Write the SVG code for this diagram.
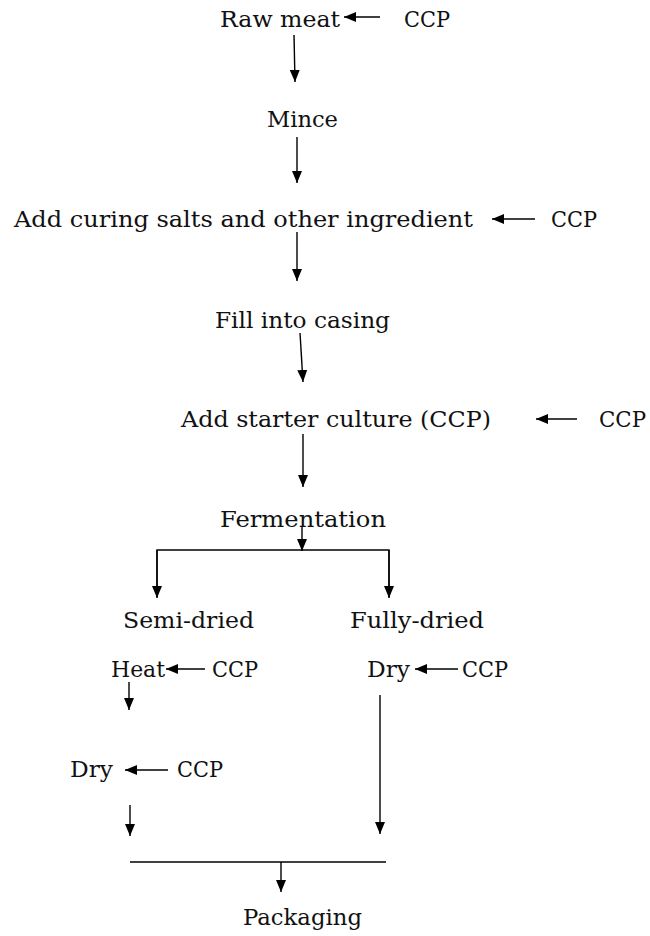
<svg xmlns="http://www.w3.org/2000/svg" width="650" height="936" viewBox="0 0 650 936">
<style>
text{font-family:"DejaVu Serif","Liberation Serif",serif;font-size:23px;fill:#111}
.c line,.c polyline{stroke:#000;stroke-width:1.4;fill:none}
.a{marker-end:url(#ah)}
</style>
<defs>
<marker id="ah" markerUnits="userSpaceOnUse" markerWidth="14" markerHeight="14" viewBox="0 0 14 14" refX="12" refY="7" orient="auto">
<path d="M0,2 L12,7 L0,12 Z" fill="#000"/>
</marker>
</defs>
<rect width="650" height="936" fill="#fff"/>
<g id="raw"><text x="220" y="27" textLength="120" lengthAdjust="spacingAndGlyphs">Raw meat</text></g>
<g id="ccp1"><text x="404" y="27" textLength="46" lengthAdjust="spacingAndGlyphs">CCP</text></g>
<g id="mince"><text x="267" y="127" textLength="71" lengthAdjust="spacingAndGlyphs">Mince</text></g>
<g id="curing"><text x="14" y="227" textLength="459" lengthAdjust="spacingAndGlyphs">Add curing salts and other ingredient</text></g>
<g id="ccp2"><text x="551" y="227" textLength="46" lengthAdjust="spacingAndGlyphs">CCP</text></g>
<g id="fill"><text x="215" y="328" textLength="175" lengthAdjust="spacingAndGlyphs">Fill into casing</text></g>
<g id="starter"><text x="181" y="427" textLength="310" lengthAdjust="spacingAndGlyphs">Add starter culture (CCP)</text></g>
<g id="ccp3"><text x="599" y="427" textLength="47" lengthAdjust="spacingAndGlyphs">CCP</text></g>
<g id="ferm"><text x="220" y="527" textLength="166" lengthAdjust="spacingAndGlyphs">Fermentation</text></g>
<g id="semi"><text x="123" y="628" textLength="131" lengthAdjust="spacingAndGlyphs">Semi-dried</text></g>
<g id="fully"><text x="350" y="628" textLength="134" lengthAdjust="spacingAndGlyphs">Fully-dried</text></g>
<g id="heat"><text x="111" y="677" textLength="54" lengthAdjust="spacingAndGlyphs">Heat</text></g>
<g id="ccp4"><text x="212" y="677" textLength="46" lengthAdjust="spacingAndGlyphs">CCP</text></g>
<g id="dry2"><text x="367" y="677" textLength="43" lengthAdjust="spacingAndGlyphs">Dry</text></g>
<g id="ccp5"><text x="462" y="677" textLength="46" lengthAdjust="spacingAndGlyphs">CCP</text></g>
<g id="dry1"><text x="70" y="777" textLength="43" lengthAdjust="spacingAndGlyphs">Dry</text></g>
<g id="ccp6"><text x="177" y="777" textLength="46" lengthAdjust="spacingAndGlyphs">CCP</text></g>
<g id="pack"><text x="243" y="925" textLength="119" lengthAdjust="spacingAndGlyphs">Packaging</text></g>
<g id="connectors" class="c">
<line class="a" x1="380" y1="17" x2="344" y2="17"/>
<line class="a" x1="294" y1="35" x2="295" y2="82"/>
<line class="a" x1="297" y1="137" x2="297" y2="183"/>
<line class="a" x1="535" y1="219" x2="492" y2="219"/>
<line class="a" x1="297" y1="232" x2="297" y2="281"/>
<line class="a" x1="300" y1="333" x2="303" y2="382"/>
<line class="a" x1="577" y1="419" x2="536" y2="419"/>
<line class="a" x1="303" y1="434" x2="303" y2="487"/>
<line class="a" x1="302" y1="527" x2="302" y2="551"/>
<polyline points="157,597 157,550 389,550 389,597"/>
<line class="a" x1="157" y1="550" x2="157" y2="598"/>
<line class="a" x1="389" y1="550" x2="389" y2="598"/>
<line class="a" x1="205" y1="669" x2="166" y2="669"/>
<line class="a" x1="458" y1="669" x2="415" y2="669"/>
<line class="a" x1="129" y1="682" x2="129" y2="710"/>
<line class="a" x1="168" y1="770" x2="125" y2="770"/>
<line class="a" x1="130" y1="805" x2="130" y2="836"/>
<line class="a" x1="380" y1="695" x2="380" y2="834"/>
<line x1="130" y1="862" x2="386" y2="862"/>
<line class="a" x1="281" y1="862" x2="281" y2="892"/>
</g>
</svg>
